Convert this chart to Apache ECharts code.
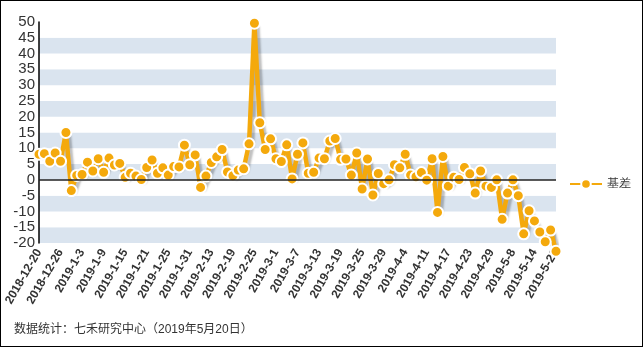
<!DOCTYPE html>
<html><head><meta charset="utf-8">
<script src="https://cdn.jsdelivr.net/npm/echarts@6/dist/echarts.min.js"></script>
<style>
html,body{margin:0;padding:0;background:#fff;}
#c{width:641px;height:345px;border:1px solid #000;}
</style></head>
<body><div id="c"></div>
<script>
const dates = [
 "2018-12-20","2018-12-21","2018-12-24","2018-12-25","2018-12-26","2018-12-27","2018-12-28",
 "2019-1-2","2019-1-3","2019-1-4","2019-1-7","2019-1-8","2019-1-9","2019-1-10","2019-1-11",
 "2019-1-14","2019-1-15","2019-1-16","2019-1-17","2019-1-18","2019-1-21","2019-1-22","2019-1-23",
 "2019-1-24","2019-1-25","2019-1-28","2019-1-29","2019-1-30","2019-1-31",
 "2019-2-1","2019-2-11","2019-2-12","2019-2-13","2019-2-14","2019-2-15","2019-2-18","2019-2-19",
 "2019-2-20","2019-2-21","2019-2-22","2019-2-25","2019-2-26","2019-2-27","2019-2-28",
 "2019-3-1","2019-3-4","2019-3-5","2019-3-6","2019-3-7","2019-3-8","2019-3-11","2019-3-12",
 "2019-3-13","2019-3-14","2019-3-15","2019-3-18","2019-3-19","2019-3-20","2019-3-21","2019-3-22",
 "2019-3-25","2019-3-26","2019-3-27","2019-3-28","2019-3-29",
 "2019-4-1","2019-4-2","2019-4-3","2019-4-4","2019-4-8","2019-4-9","2019-4-10","2019-4-11",
 "2019-4-12","2019-4-15","2019-4-16","2019-4-17","2019-4-18","2019-4-19","2019-4-22","2019-4-23",
 "2019-4-24","2019-4-25","2019-4-26","2019-4-29","2019-4-30",
 "2019-5-6","2019-5-7","2019-5-8","2019-5-9","2019-5-10","2019-5-13","2019-5-14","2019-5-15",
 "2019-5-16","2019-5-17","2019-5-20"
];
const basis = [
 8.1,8.3,5.9,8.5,5.9,15.0,-3.4,1.4,1.7,5.6,2.8,6.7,2.4,6.9,4.7,5.2,0.8,
 2.1,1.2,0.1,3.9,6.3,2.1,3.8,1.5,4.2,4.1,11.0,4.8,7.9,-2.4,1.2,5.5,
 7.3,9.6,2.5,1.3,3.1,3.5,11.4,49.6,18.1,9.6,13.0,6.7,5.8,11.1,0.3,8.1,
 11.7,2.1,2.4,6.9,6.7,12.3,13.1,6.5,6.6,1.5,8.5,-2.9,6.6,-4.8,2.0,-1.2,
 0.0,4.8,3.8,8.1,1.5,1.0,2.3,-0.1,6.7,-10.3,7.4,-2.0,0.8,0.1,3.9,1.9,
 -4.2,2.8,-2.0,-2.4,0.0,-12.5,-4.2,0.0,-5.0,-17.1,-9.8,-13.0,-16.5,-19.6,-15.9,-22.6
];
const seriesName = "基差";
const yTicks = {min:-20, max:50, interval:5};
const footer = "数据统计：七禾研究中心（2019年5月20日）";

const chart = echarts.init(document.getElementById('c'), null, {renderer:'canvas'});
const orange = '#f4a90c';
chart.setOption({
  animation:false,
  textStyle:{fontFamily:'Liberation Sans, Arial, sans-serif'},
  grid:{left:38, right:86, top:21, bottom:103, containLabel:false},
  legend:{
    orient:'vertical', right:6, top:172, itemWidth:32, itemHeight:12, itemGap:4,
    textStyle:{fontSize:12, color:'#333'},
    data:[seriesName]
  },
  xAxis:{
    type:'category', data:dates, boundaryGap:false,
    axisLine:{show:false, onZero:false},
    axisTick:{show:false},
    axisLabel:{interval:3, rotate:60, fontSize:12, fontWeight:'bold', color:'#333', margin:7},
    splitLine:{show:false}
  },
  yAxis:{
    type:'value', min:yTicks.min, max:yTicks.max, interval:yTicks.interval,
    axisLine:{show:true, lineStyle:{color:'#000', width:1.5}},
    axisTick:{show:false},
    axisLabel:{fontSize:15, color:'#333', margin:4},
    splitLine:{show:false},
    splitArea:{show:true, areaStyle:{color:['#dae4ef','#ffffff']}}
  },
  series:[{
    name:seriesName, type:'line', data:basis, clip:false,
    symbol:'circle', symbolSize:11, showAllSymbol:true,
    itemStyle:{color:orange, borderColor:'#fff', borderWidth:2},
    lineStyle:{color:orange, width:4.5, shadowColor:'rgba(0,0,0,0.25)', shadowOffsetX:3, shadowOffsetY:3, shadowBlur:2},
    markLine:{
      silent:true, symbol:'none', label:{show:false},
      lineStyle:{color:'#222', width:1.5, type:'solid'},
      data:[{yAxis:0}]
    },
    z:3
  }],
  graphic:[{
    type:'text', left:13, top:323,
    style:{text:footer, fontSize:12, fill:'#333', fontFamily:'Liberation Sans, Noto Sans CJK SC, sans-serif'}
  }]
});
</script></body></html>
